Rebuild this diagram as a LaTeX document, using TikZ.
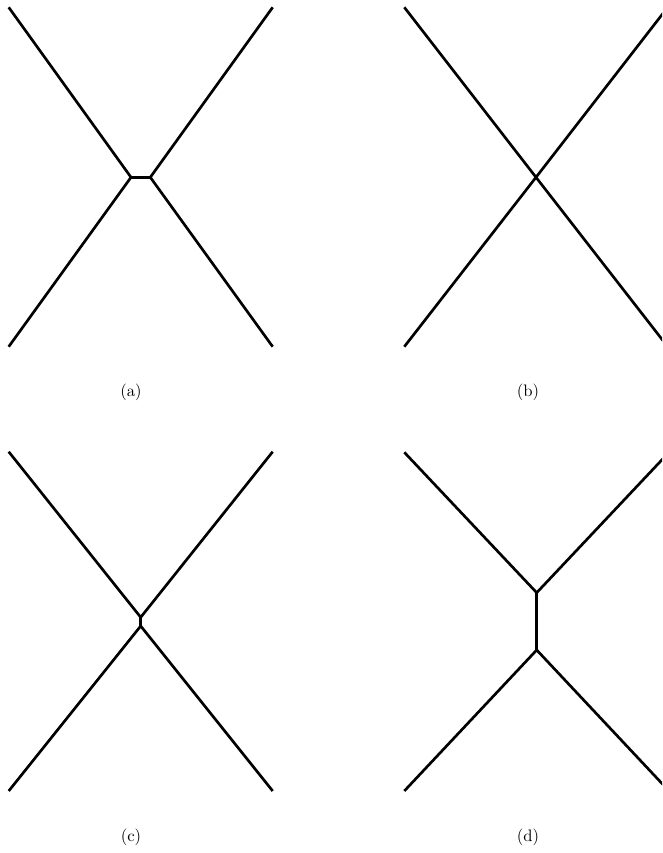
\documentclass[tikz,border=0pt]{standalone}
\usepackage{tikz}

\tikzset{
  leg/.style={line width=1.6pt, line join=miter},
  sublabel/.style={font=\normalsize, inner sep=0pt}
}

\begin{document}
\begin{tikzpicture}[x=0.6pt, y=-0.6pt]
  \clip (0,0) rectangle (662,853);

  % (a) lato corto orizzontale
  \coordinate (a-tl) at (8.7,7.3);
  \coordinate (a-bl) at (8.7,346.7);
  \coordinate (a-tr) at (272.7,7.3);
  \coordinate (a-br) at (272.7,346.7);
  \coordinate (a-l) at (131,177.3);
  \coordinate (a-r) at (150.3,177.3);
  \draw[leg] (a-tl) -- (a-l) -- (a-bl);
  \draw[leg] (a-l) -- (a-r);
  \draw[leg] (a-tr) -- (a-r) -- (a-br);
  \node[sublabel] (lab-a) at (131,392) {(a)};

  % (b) incrocio
  \coordinate (b-tl) at (404.3,7.3);
  \coordinate (b-bl) at (404.3,346.7);
  \coordinate (b-tr) at (667.7,7.3);
  \coordinate (b-br) at (667.7,346.7);
  \coordinate (b-c) at (536,177.3);
  \draw[leg] (b-tl) -- (b-c) -- (b-br);
  \draw[leg] (b-bl) -- (b-c) -- (b-tr);
  \node[sublabel] (lab-b) at (528,392) {(b)};

  % (c) lato corto verticale
  \coordinate (c-tl) at (8.7,451.7);
  \coordinate (c-tr) at (272.7,451.7);
  \coordinate (c-bl) at (8.7,791);
  \coordinate (c-br) at (272.7,791);
  \coordinate (c-t) at (140.7,617.3);
  \coordinate (c-b) at (140.7,626);
  \draw[leg] (c-tl) -- (c-t) -- (c-tr);
  \draw[leg] (c-t) -- (c-b);
  \draw[leg] (c-bl) -- (c-b) -- (c-br);
  \node[sublabel] (lab-c) at (131,837) {(c)};

  % (d) lato lungo verticale
  \coordinate (d-tl) at (404.3,452.3);
  \coordinate (d-tr) at (669,452.3);
  \coordinate (d-bl) at (404.3,791);
  \coordinate (d-br) at (669,791);
  \coordinate (d-t) at (536.7,592.7);
  \coordinate (d-b) at (536.7,650);
  \draw[leg] (d-tl) -- (d-t) -- (d-tr);
  \draw[leg] (d-t) -- (d-b);
  \draw[leg] (d-bl) -- (d-b) -- (d-br);
  \node[sublabel] (lab-d) at (528,837) {(d)};
\end{tikzpicture}
\end{document}
